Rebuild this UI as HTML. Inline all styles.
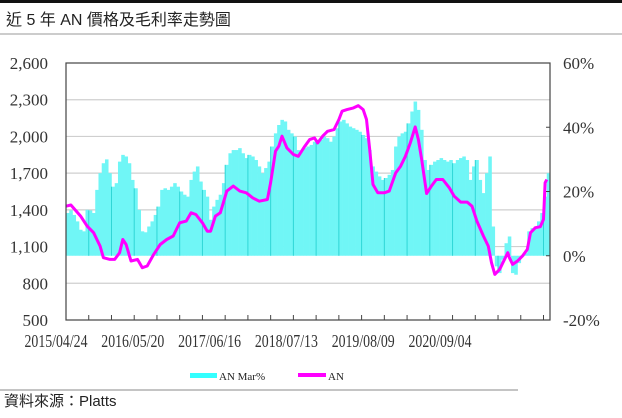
<!DOCTYPE html>
<html><head><meta charset="utf-8"><style>
html,body{margin:0;padding:0;background:#fff;}
body{width:622px;height:413px;overflow:hidden;position:relative;font-family:"Liberation Sans","Noto Sans CJK TC",sans-serif;}
svg text{font-family:"Liberation Serif","Noto Serif CJK SC",serif;}
</style></head><body>
<svg id="chart" width="622" height="413" viewBox="0 0 622 413" xmlns="http://www.w3.org/2000/svg">
<rect x="0" y="0" width="622" height="3" fill="#111"/>
<text x="6" y="25" font-size="16" fill="#222" style="font-family:'Liberation Sans','Noto Sans CJK TC',sans-serif">近 5 年 AN 價格及毛利率走勢圖</text>
<line x1="0" y1="34" x2="622" y2="34" stroke="#999" stroke-width="1"/>
<g id="grid"></g>
<g id="bars"></g>
<g id="line"></g>
<rect x="66" y="63" width="484" height="257" fill="none" stroke="#444" stroke-width="1.2"/>
<g id="axes"></g>
<g>
<rect x="190" y="373" width="27" height="5" fill="#33ffff"/>
<text x="219" y="380" font-size="11" fill="#222">AN Mar%</text>
<rect x="298" y="373" width="28" height="4" fill="#ff00ff"/>
<text x="328" y="380" font-size="11" fill="#222">AN</text>
</g>
<line x1="0" y1="390" x2="518" y2="390" stroke="#888" stroke-width="1"/>
<text x="4" y="406" font-size="15" fill="#222" style="font-family:'Liberation Sans','Noto Sans CJK TC',sans-serif">資料來源：Platts</text>
</svg>
<script>
const priceWeeks=[0,3,9,13,17,21,23,27,30,33,35,37,40,44,47,50,54,58,62,66,70,74,77,80,84,87,89,92,95,99,103,107,111,115,119,124,126,129,131,133,136,140,143,147,150,153,155,158,161,165,168,170,173,177,180,183,185,187,188,189,192,196,199,203,206,209,212,215,217,219,222,225,228,232,236,239,243,247,250,253,257,260,262,264,267,269,272,273,275,278,281,284,286,289,292,294,295,296];
const priceValues=[1430,1440,1349,1267,1213,1104,1009,995,995,1050,1158,1117,982,995,927,941,1036,1117,1158,1186,1294,1308,1376,1362,1294,1226,1226,1349,1376,1553,1594,1553,1539,1498,1471,1485,1621,1879,1920,2002,1906,1852,1838,1920,1974,1988,1947,2002,2042,2056,2138,2206,2219,2233,2252,2219,2138,1893,1757,1607,1539,1539,1553,1702,1757,1838,1947,2078,1974,1811,1534,1594,1648,1648,1580,1512,1463,1463,1430,1308,1186,1104,968,873,914,968,1050,1009,954,982,1022,1077,1213,1254,1262,1322,1621,1648];
const marginPct=[13.3,14.1,12.7,10.7,8.1,7.6,14.3,14.1,13.3,20.5,25.7,28.8,30,25.7,21.5,22.6,29.3,31.4,30.9,28.8,23.6,21,14.3,7.6,7.3,9.1,10.7,12.7,15.3,20.5,21,20.5,21.5,22.6,21.5,20,19,18.4,23.6,26.2,27.8,23.1,20.5,18.4,11.2,15.3,17.4,19,22.6,28.3,31.9,32.9,32.9,33.5,31.9,30.4,31.4,30.9,29.8,27.8,25.7,27.3,29.3,34,38.1,40.7,42.3,41.8,39.2,38.1,37.1,32.9,
32.4,33.5,34,34.5,35.5,36.1,36.1,37.1,36.6,35.5,37.1,39.7,41.8,42.3,41.2,40.2,39.7,39.2,38.6,37.6,36.6,32.9,27.8,26.2,24.7,23.6,24.2,25.2,26.7,34,37.1,38.1,38.6,41.2,44.9,48,45.4,39.2,29.8,26.7,28.3,29.3,29.8,30.4,29.8,29.3,29.8,28.8,29.8,30.4,30.9,29.8,23.6,27.8,29.8,23.6,19.5,25.7,30.9,9.1,-3.3,-5.4,-1.2,3.9,6,-5.4,-5.9,-2.3,-0.2,0.8,7.6,8.6,9.1,10.7,13.3,18.4,25.7];
const leftTicks=[500,800,1100,1400,1700,2000,2300,2600];
const leftTickLabels=["500","800","1,100","1,400","1,700","2,000","2,300","2,600"];
const rightTicks=[-20,0,20,40,60];
const rightTickLabels=["-20%","0%","20%","40%","60%"];
const dateLabels=["2015/04/24","2016/05/20","2017/06/16","2018/07/13","2019/08/09","2020/09/04"];

const NS="http://www.w3.org/2000/svg";
const X0=66,X1=550,Y0=63,Y1=320,WEEKS=298;
const xW=w=>X0+w*(X1-X0)/WEEKS;
const yL=v=>Y1-(v-500)/(2600-500)*(Y1-Y0);
const yR=p=>Y1-(p+20)/80*(Y1-Y0);
function mk(tag,attrs,parent){const e=document.createElementNS(NS,tag);for(const k in attrs)e.setAttribute(k,attrs[k]);parent.appendChild(e);return e;}
const grid=document.getElementById('grid'),bars=document.getElementById('bars'),line=document.getElementById('line'),axes=document.getElementById('axes');
leftTicks.forEach((v,i)=>{
  if(v>500&&v<2600){const g=mk('line',{x1:X0,x2:X1,y1:yL(v),y2:yL(v),stroke:'#cfcfcf','stroke-width':1.2},grid);
  
  }
  const t=mk('text',{x:48,y:yL(v)+6,'font-size':17,'text-anchor':'end',fill:'#333'},axes);t.textContent=leftTickLabels[i];
  
  
});
rightTicks.forEach((p,i)=>{
  const t=mk('text',{x:563,y:yR(p)+6,'font-size':17,fill:'#333'},axes);t.textContent=rightTickLabels[i];
  
  
  const k=mk('line',{x1:X1-4,x2:X1,y1:yR(p),y2:yR(p),stroke:'#444'},axes);
  
  
});
for(let w=14;w<WEEKS;w+=14){const k=mk('line',{x1:xW(w),x2:xW(w),y1:Y1-5,y2:Y1,stroke:'#444'},axes);
  
  }
dateLabels.forEach((d,i)=>{
  const t=mk('text',{x:56+i*76.8,y:347,'font-size':18,'text-anchor':'middle',fill:'#333',textLength:63,lengthAdjust:'spacingAndGlyphs'},axes);t.textContent=d;
  
  
});
const bw=(X1-X0)/WEEKS*2;
marginPct.forEach((p,i)=>{
  const x=xW(i*2),y0=yR(0),y=yR(p);
  const r=mk('rect',{x:x,y:Math.min(y,y0),width:bw+0.3,height:Math.abs(y0-y),fill:'#70f6f6'},bars);
  
  
});
for(let w=14;w<WEEKS;w+=14){const idx=Math.round(w/2);if(idx<marginPct.length){const p=marginPct[idx];
  const v=mk('line',{x1:xW(w),x2:xW(w),y1:yR(0),y2:yR(p),stroke:'#2fd6d6','stroke-width':1},bars);
  
  }}
const pts=priceWeeks.map((w,i)=>xW(w).toFixed(1)+','+yL(priceValues[i]).toFixed(1)).join(' ');
const pl=mk('polyline',{points:pts,fill:'none',stroke:'#ff00ff','stroke-width':3,'stroke-linejoin':'round'},line);


</script>
</body></html>
